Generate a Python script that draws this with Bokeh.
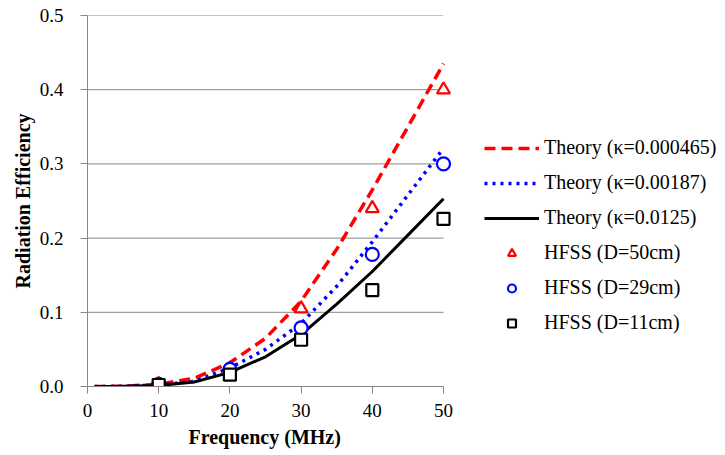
from bokeh.plotting import figure
from bokeh.models import Range1d, FixedTicker, PrintfTickFormatter, Legend, LegendItem, Title
from bokeh.embed import file_html
from bokeh.resources import INLINE

# ---- data ----
theory_freq = [1, 5, 10, 15, 20, 25, 30, 35, 40, 45, 50]
theory_k000465 = [0.0, 0.0004, 0.003, 0.011, 0.032, 0.065, 0.115, 0.185, 0.265, 0.350, 0.435]
theory_k00187 = [0.0, 0.0003, 0.002, 0.007, 0.025, 0.050, 0.085, 0.135, 0.195, 0.258, 0.321]
theory_k0125 = [0.0, 0.0002, 0.0015, 0.006, 0.019, 0.040, 0.070, 0.111, 0.155, 0.204, 0.253]

hfss_freq = [10, 20, 30, 40, 50]
hfss_d50 = [0.003, 0.024, 0.105, 0.240, 0.400]
hfss_d29 = [0.003, 0.023, 0.079, 0.178, 0.300]
hfss_d11 = [0.002, 0.016, 0.063, 0.130, 0.226]

x_ticks = [0, 10, 20, 30, 40, 50]
y_ticks = [0.0, 0.1, 0.2, 0.3, 0.4, 0.5]

FONT = "Liberation Serif"
AXIS_GRAY = "#868686"

# layout (pixels)
W, H = 725, 455
LEFT, TOP, BOTTOM, RIGHT = 87, 15, 69, 4
AXIS_PX = 356                      # pixel length of the 0..50 axis
frame_w = W - LEFT - RIGHT
x_end = x_ticks[-1] * frame_w / AXIS_PX

p = figure(width=W, height=H, output_backend="svg", toolbar_location=None,
           x_range=Range1d(x_ticks[0], x_end), y_range=Range1d(y_ticks[0], y_ticks[-1]),
           min_border_left=LEFT, min_border_right=RIGHT, min_border_top=TOP,
           min_border_bottom=BOTTOM)
p.outline_line_color = None
p.xgrid.visible = False
p.ygrid.visible = False

# horizontal gridlines (from tick values, spanning the 0..50 axis extent)
p.segment(x0=[x_ticks[0]] * len(y_ticks), x1=[x_ticks[-1]] * len(y_ticks),
          y0=y_ticks, y1=y_ticks, line_color=AXIS_GRAY, line_width=1)

# axes
p.xaxis.ticker = FixedTicker(ticks=x_ticks)
p.yaxis.ticker = FixedTicker(ticks=y_ticks)
p.xaxis.formatter = PrintfTickFormatter(format="%d")
p.yaxis.formatter = PrintfTickFormatter(format="%.1f")
p.xaxis.bounds = (x_ticks[0], x_ticks[-1])
for ax in (p.xaxis, p.yaxis):
    ax.axis_line_color = AXIS_GRAY
    ax.major_tick_line_color = AXIS_GRAY
    ax.minor_tick_line_color = None
    ax.major_tick_in = 0
    ax.major_tick_out = 7
    ax.major_label_text_font = FONT
    ax.major_label_text_font_size = "19px"
    ax.major_label_text_color = "black"
    ax.axis_label_text_font = FONT
    ax.axis_label_text_font_size = "20px"
    ax.axis_label_text_font_style = "bold"
    ax.axis_label_text_color = "black"
p.xaxis.major_label_standoff = 10
p.yaxis.major_label_standoff = 17
p.yaxis.axis_label = "Radiation Efficiency"
p.yaxis.axis_label_standoff = 3

xtitle = Title(text="Frequency (MHz)", align="left", offset=101, standoff=8,
               text_font=FONT, text_font_size="20px", text_font_style="bold",
               text_color="black")
p.add_layout(xtitle, "below")

# theory curves
r1 = p.line(theory_freq, theory_k000465, line_color="#ff0000", line_width=3.5, line_dash="11 6")
r2 = p.line(theory_freq, theory_k00187, line_color="#0000ff", line_width=3.5, line_dash="3 5")
r3 = p.line(theory_freq, theory_k0125, line_color="black", line_width=3)

# HFSS markers
m1 = p.scatter(hfss_freq, hfss_d50, marker="triangle", size=13, line_color="#ff0000",
               line_width=2.2, fill_color="white")
m2 = p.scatter(hfss_freq, hfss_d29, marker="circle", size=13, line_color="#0000ff",
               line_width=2.2, fill_color="white")
m3 = p.scatter(hfss_freq, hfss_d11, marker="square", size=12, line_color="black",
               line_width=2.2, fill_color="white")

legend = Legend(items=[
    LegendItem(label="Theory (\u03ba=0.000465)", renderers=[r1]),
    LegendItem(label="Theory (\u03ba=0.00187)", renderers=[r2]),
    LegendItem(label="Theory (\u03ba=0.0125)", renderers=[r3]),
    LegendItem(label="HFSS (D=50cm)", renderers=[m1]),
    LegendItem(label="HFSS (D=29cm)", renderers=[m2]),
    LegendItem(label="HFSS (D=11cm)", renderers=[m3]),
], location=(397, 52))
legend.padding = 0
legend.margin = 0
legend.border_line_alpha = 0
legend.background_fill_alpha = 0
legend.glyph_width = 55
legend.glyph_height = 20
legend.label_height = 20
legend.spacing = 12
legend.label_standoff = 5
legend.label_text_font = FONT
legend.label_text_font_size = "20px"
legend.label_text_color = "black"
p.add_layout(legend, "center")

open("out.html", "w").write(file_html(p, INLINE))
